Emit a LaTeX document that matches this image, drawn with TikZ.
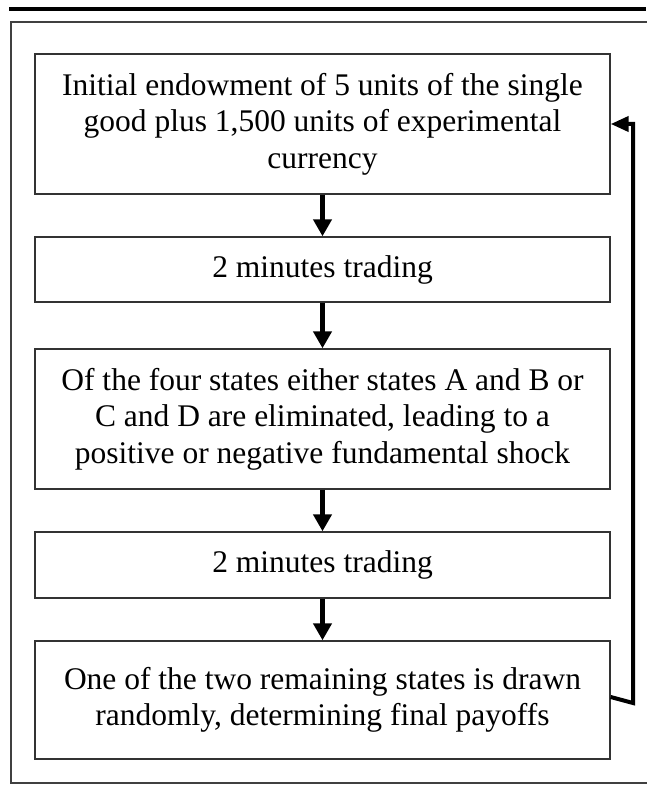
\documentclass[tikz,border=0pt]{standalone}
\usepackage{fontspec}
\setmainfont{Liberation Serif}
\usetikzlibrary{arrows.meta}
\begin{document}
\begin{tikzpicture}[x=1pt,y=-1pt,
  stagebox/.style={draw=black!80, line width=1.4pt, minimum width=575pt, inner sep=0pt,
    align=center, font=\fontsize{31.5}{36.5}\selectfont},
  flowarrow/.style={line width=5pt, -{Triangle[width=18pt,length=17pt]}},
  backarrow/.style={line width=4pt, -{Triangle[width=15pt,length=18pt]}}]
\useasboundingbox (0,0) rectangle (646,791);
\draw[line width=4pt] (9,9) -- (646,9);
\draw[black!75, line width=1.4pt] (650,22) -- (11,22) -- (11,783) -- (650,783);
\node[stagebox, minimum height=140pt] (b1) at (322.5,124) {Initial endowment of 5 units of the single\\good plus 1,500 units of experimental\\currency};
\node[stagebox, minimum height=65pt] (b2) at (322.5,269.5) {2 minutes trading};
\node[stagebox, minimum height=140pt] (b3) at (322.5,419) {Of the four states either states A and B or\\C and D are eliminated, leading to a\\positive or negative fundamental shock};
\node[stagebox, minimum height=66pt] (b4) at (322.5,565) {2 minutes trading};
\node[stagebox, minimum height=118pt] (b5) at (322.5,700) {One of the two remaining states is drawn\\randomly, determining final payoffs};
\draw[flowarrow] (b1.south) -- (b2.north);
\draw[flowarrow] (b2.south) -- (b3.north);
\draw[flowarrow] (b3.south) -- (b4.north);
\draw[flowarrow] (b4.south) -- (b5.north);
\coordinate (r5) at (633,703);
\coordinate (r1) at (633,124);
\draw[backarrow] ([yshift=3pt]b5.east) -- (r5) -- (r1) -- (b1.east);
\end{tikzpicture}
\end{document}
